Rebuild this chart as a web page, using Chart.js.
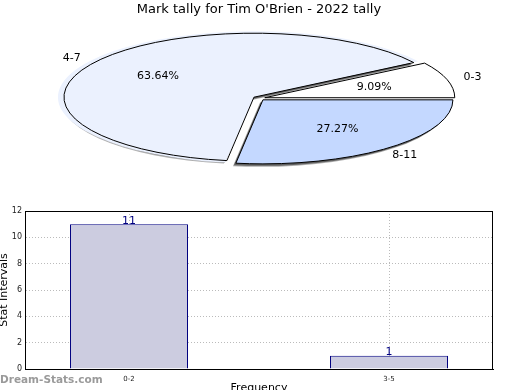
<!DOCTYPE html>
<html>
<head>
<meta charset="utf-8">
<script src="https://cdn.jsdelivr.net/npm/chart.js@4.4.1/dist/chart.umd.min.js"></script>
<style>
  html, body { margin: 0; padding: 0; background: #fff; }
  #wrap { position: relative; width: 520px; height: 390px; overflow: hidden; }
  #pieBox { position: absolute; left: 0; top: 0; width: 520px; height: 195px; }
  #barBox { position: absolute; left: 0; top: 200px; width: 520px; height: 200px; }
  #mark { position: absolute; left: 0; top: 373px; font: bold 10.5px "DejaVu Sans", sans-serif; color: #9a9a9a; white-space: nowrap; }
</style>
</head>
<body>
<div id="wrap">
  <div id="pieBox"><canvas id="pie"></canvas></div>
  <div id="barBox"><canvas id="bar"></canvas></div>
  <div id="mark">Dream-Stats.com</div>
</div>
<script>
// ---- data ----
const title = "Mark tally for Tim O'Brien - 2022 tally";
const pieCategories = ['0-3', '4-7', '8-11'];
const pieValues = [1, 7, 3];
const pieColors = ['#ffffff', '#ebf1fe', '#c4d8ff'];

const barCategories = ['0-2', '3-5'];
const barValues = [11, 1];
const yTicks = [0, 2, 4, 6, 8, 10, 12];
const xTitle = 'Frequency';
const yTitle = 'Stat Intervals';

// ---- pie (drawn clockwise from east, so order reversed to get counter-clockwise look) ----
const order = [2, 1, 0];
const SQUASH = 0.337;
const OFFSET = 24; // Chart.js v4 translates arcs by offset/4
const total = pieValues.reduce((a, b) => a + b, 0);

function slicePath(ctx, arc, dx, dy) {
  // build the path in squashed space, then return to device space before painting
  const off = (arc.options.offset || 0) / 4;
  const mid = (arc.startAngle + arc.endAngle) / 2;
  ctx.save();
  ctx.translate(dx, dy);
  ctx.translate(arc.x, arc.y);
  ctx.scale(1, SQUASH);
  ctx.translate(Math.cos(mid) * off, Math.sin(mid) * off);
  ctx.beginPath();
  ctx.moveTo(0, 0);
  ctx.arc(0, 0, arc.outerRadius, arc.startAngle, arc.endAngle);
  ctx.closePath();
  ctx.restore();
}

const squashPlugin = {
  id: 'squash',
  beforeDatasetsDraw(chart) {
    const ctx = chart.ctx;
    const meta = chart.getDatasetMeta(0);
    // grey drop shadow for the coloured slices
    ctx.save();
    meta.data.forEach((arc, i) => {
      if (pieColors[order[i]] === '#ffffff') return;
      ctx.fillStyle = 'rgba(140,140,140,0.7)';
      slicePath(ctx, arc, -3, 3);
      ctx.fill();
      ctx.fillStyle = 'rgba(90,90,90,0.9)';
      slicePath(ctx, arc, -2, 2);
      ctx.fill();
    });
    ctx.restore();
    const arc0 = meta.data[0];
    ctx.save();
    ctx.translate(arc0.x, arc0.y);
    ctx.scale(1, SQUASH);
    ctx.translate(-arc0.x, -arc0.y);
  },
  afterDatasetsDraw(chart) {
    const ctx = chart.ctx;
    ctx.restore();
    const meta = chart.getDatasetMeta(0);
    ctx.save();
    ctx.strokeStyle = '#000';
    ctx.lineWidth = 1;
    ctx.lineJoin = 'miter';
    meta.data.forEach(arc => {
      slicePath(ctx, arc, 0, 0);
      ctx.stroke();
    });
    ctx.restore();
  },
  afterDraw(chart) {
    const ctx = chart.ctx;
    const meta = chart.getDatasetMeta(0);
    ctx.save();
    ctx.fillStyle = '#000';
    ctx.font = '11px "DejaVu Sans", sans-serif';
    ctx.textAlign = 'center';
    ctx.textBaseline = 'middle';
    meta.data.forEach((arc, i) => {
      const idx = order[i];
      const mid = (arc.startAngle + arc.endAngle) / 2;
      const off = (arc.options.offset || 0) / 4;
      const r = arc.outerRadius;
      const pct = (pieValues[idx] / total * 100).toFixed(2) + '%';
      const d1 = off + r * 0.6;
      ctx.fillText(pct, arc.x + Math.cos(mid) * d1, arc.y + Math.sin(mid) * d1 * SQUASH);
      const d2 = off + r * 1.14;
      ctx.fillText(pieCategories[idx], arc.x + Math.cos(mid) * d2, arc.y + Math.sin(mid) * d2 * SQUASH);
    });
    ctx.restore();
  }
};

new Chart(document.getElementById('pie'), {
  type: 'pie',
  data: {
    labels: order.map(i => pieCategories[i]),
    datasets: [{
      data: order.map(i => pieValues[i]),
      backgroundColor: order.map(i => pieColors[i]),
      borderWidth: 0,
      offset: OFFSET,
      radius: 190,
      clip: false
    }]
  },
  options: {
    responsive: true,
    maintainAspectRatio: false,
    animation: false,
    rotation: 90,
    layout: { padding: { left: 0, right: 2, top: 0, bottom: 17 } },
    plugins: {
      legend: { display: false },
      tooltip: { enabled: false },
      title: {
        display: true,
        text: title,
        color: '#000',
        font: { family: '"DejaVu Sans", sans-serif', size: 13, weight: 'normal', lineHeight: 1.2 },
        padding: { top: 2, bottom: 1 }
      }
    }
  },
  plugins: [squashPlugin]
});

// ---- bar ----
const barExtras = {
  id: 'barExtras',
  afterDatasetsDraw(chart) {
    const ctx = chart.ctx;
    const meta = chart.getDatasetMeta(0);
    ctx.save();
    ctx.fillStyle = '#000080';
    ctx.font = '11px "DejaVu Sans", sans-serif';
    ctx.textAlign = 'center';
    ctx.textBaseline = 'bottom';
    meta.data.forEach((bar, i) => {
      ctx.fillText(String(barValues[i]), bar.x, bar.y + 2);
    });
    ctx.restore();
  },
  afterDraw(chart) {
    const a = chart.chartArea;
    const ctx = chart.ctx;
    ctx.save();
    ctx.strokeStyle = '#000';
    ctx.lineWidth = 1;
    ctx.strokeRect(Math.round(a.left) + 0.5, Math.round(a.top) + 0.5, Math.round(a.right - a.left) - 1, Math.round(a.bottom - a.top));
    ctx.restore();
  }
};

new Chart(document.getElementById('bar'), {
  type: 'bar',
  data: {
    datasets: [{
      data: barValues.map((v, i) => ({ x: i, y: v })),
      backgroundColor: '#cccce0',
      borderColor: '#000080',
      borderWidth: 1,
      categoryPercentage: 1,
      barPercentage: 0.4539
    }]
  },
  options: {
    responsive: true,
    maintainAspectRatio: false,
    animation: false,
    layout: { padding: { left: 0, right: 27, top: 11, bottom: 0 } },
    plugins: { legend: { display: false }, tooltip: { enabled: false } },
    scales: {
      x: {
        type: 'linear',
        offset: false,
        min: -0.4,
        max: 1.4,
        afterFit(s) { s.height = 31; },
        afterBuildTicks(s) { s.ticks = barCategories.map((c, i) => ({ value: i })); },
        grid: { color: '#bbbbbb', drawTicks: false, offset: false },
        border: { color: '#000', dash: [1, 2] },
        ticks: { color: '#222', font: { family: '"DejaVu Sans", sans-serif', size: 7 }, padding: 6, maxRotation: 0,
                 callback: (v) => barCategories[v] },
        title: { display: true, text: xTitle, color: '#000', font: { family: '"DejaVu Sans", sans-serif', size: 11, lineHeight: 1.2 }, padding: { top: 0, bottom: 5 } }
      },
      y: {
        min: yTicks[0],
        max: yTicks[yTicks.length - 1],
        afterFit(s) { s.width = 25; },
        afterBuildTicks(s) { s.ticks = yTicks.map(v => ({ value: v })); },
        grid: { color: '#bbbbbb', drawTicks: false },
        border: { color: '#000', dash: [1, 2] },
        ticks: { color: '#222', font: { family: '"DejaVu Sans", sans-serif', size: 8 }, padding: 3 },
        title: { display: true, text: yTitle, color: '#000', font: { family: '"DejaVu Sans", sans-serif', size: 11, lineHeight: 0.8 }, padding: 0 }
      }
    }
  },
  plugins: [barExtras]
});
</script>
</body>
</html>
